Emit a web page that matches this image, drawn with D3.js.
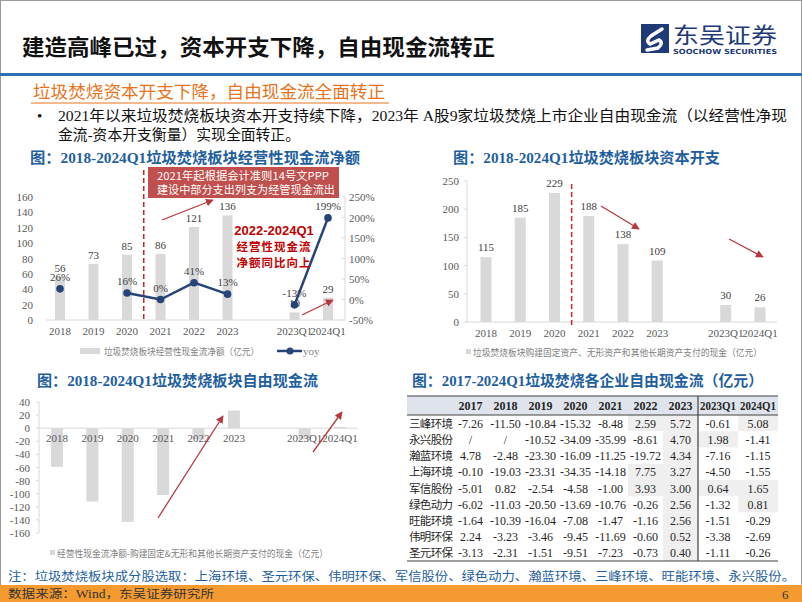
<!DOCTYPE html>
<meta charset="utf-8">
<style>
body { margin: 0; background: #fff; }
svg { display: block; }
</style>
<body>
<script src="https://d3js.org/d3.v7.min.js"></script>
<script>

// ---- data ----
var categories = ["2018", "2019", "2020", "2021", "2022", "2023", "2023Q1", "2024Q1"];
var slots = ["2018", "2019", "2020", "2021", "2022", "2023", "gap", "2023Q1", "2024Q1"];

var opCashFlow = [56, 73, 85, 86, 121, 136, 10, 29];       // 亿元
var opCashYoy = [26, null, 16, 0, 41, 13, -13, 199];        // %
var capex = [115, 185, 229, 188, 138, 109, 30, 26];         // 亿元
var freeCashFlow = [-59, -112, -143, -102, -17, 27, -17, 2]; // 亿元

var tableYears = ["2017", "2018", "2019", "2020", "2021", "2022", "2023"];
var tableQuarters = ["2023Q1", "2024Q1"];
var tableCols = tableYears.concat(tableQuarters);
var companies = ["三峰环境", "永兴股份", "瀚蓝环境", "上海环境", "军信股份", "绿色动力", "旺能环境", "伟明环保", "圣元环保"];
var companyFcf = [
  [-7.26, -11.50, -10.84, -15.32, -8.48, 2.59, 5.72, -0.61, 5.08],
  [null, null, -10.52, -34.09, -35.99, -8.61, 4.70, 1.98, -1.41],
  [4.78, -2.48, -23.30, -16.09, -11.25, -19.72, 4.34, -7.16, -1.15],
  [-0.10, -19.03, -23.31, -34.35, -14.18, 7.75, 3.27, -4.50, -1.55],
  [-5.01, 0.82, -2.54, -4.58, -1.00, 3.93, 3.00, 0.64, 1.65],
  [-6.02, -11.03, -20.50, -13.69, -10.76, -0.26, 2.56, -1.32, 0.81],
  [-1.64, -10.39, -16.04, -7.08, -1.47, -1.16, 2.56, -1.51, -0.29],
  [2.24, -3.23, -3.46, -9.45, -11.69, -0.60, 0.52, -3.38, -2.69],
  [-3.13, -2.31, -1.51, -9.51, -7.23, -0.73, 0.40, -1.11, -0.26]
];

// ---- styles ----
var serif = "'Liberation Serif','Noto Sans CJK SC',serif";
var cjk = "'Noto Sans CJK SC',sans-serif";
var blue = "#1f5fa0";
var barGrey = "#d9d9d9";
var axisGrey = "#d9d9d9";
var tickText = "#595959";
var red = "#b8373d";

var svg = d3.select("body").append("svg")
    .attr("width", 802)
    .attr("height", 602);

svg.append("defs").append("marker")
    .attr("id", "arrow")
    .attr("viewBox", "0 0 10 10")
    .attr("refX", 9).attr("refY", 5)
    .attr("markerWidth", 6).attr("markerHeight", 6)
    .attr("orient", "auto")
  .append("path")
    .attr("d", "M0,0 L10,5 L0,10 z")
    .attr("fill", red);

// slide border
svg.append("rect")
    .attr("x", 0.5).attr("y", 0.5)
    .attr("width", 801).attr("height", 601)
    .attr("fill", "none").attr("stroke", "#9a9a9a");

// ---- header ----
svg.append("text")
    .attr("x", 22).attr("y", 55)
    .attr("font-family", cjk).attr("font-weight", "bold")
    .attr("font-size", 22).attr("fill", "#111")
    .attr("textLength", 473).attr("lengthAdjust", "spacingAndGlyphs")
    .text("建造高峰已过，资本开支下降，自由现金流转正");

svg.append("rect")
    .attr("x", 0).attr("y", 73).attr("width", 802).attr("height", 3)
    .attr("fill", "#2e6fb3");

// logo
var logo = svg.append("g");
logo.append("rect")
    .attr("x", 641).attr("y", 24).attr("width", 28).attr("height", 29)
    .attr("fill", "#1e3a78");
logo.append("path")
    .attr("d", "M662,29 L651,36 Q645,41 650,44 L659,40 Q664,43 658,48 L647,50")
    .attr("fill", "none").attr("stroke", "#fff").attr("stroke-width", 3.5)
    .attr("stroke-linecap", "round");
logo.append("text")
    .attr("x", 673).attr("y", 43)
    .attr("font-family", cjk).attr("font-size", 22).attr("fill", "#1e3a78")
    .attr("textLength", 104).attr("lengthAdjust", "spacingAndGlyphs")
    .text("东吴证券");
logo.append("text")
    .attr("x", 673).attr("y", 54)
    .attr("font-family", "'DejaVu Sans',sans-serif").attr("font-weight", "bold")
    .attr("font-size", 7).attr("fill", "#1e3a78")
    .attr("textLength", 104).attr("lengthAdjust", "spacingAndGlyphs")
    .text("SOOCHOW SECURITIES");

// orange subheading
svg.append("text")
    .attr("x", 33).attr("y", 98)
    .attr("font-family", cjk).attr("font-size", 17).attr("fill", "#e8731a")
    .attr("textLength", 352).attr("lengthAdjust", "spacingAndGlyphs")
    .text("垃圾焚烧资本开支下降，自由现金流全面转正");
svg.append("line")
    .attr("x1", 31).attr("x2", 389).attr("y1", 103).attr("y2", 103)
    .attr("stroke", "#e8731a").attr("stroke-width", 1);

// bullet text
svg.append("text")
    .attr("x", 37).attr("y", 121)
    .attr("font-family", serif).attr("font-size", 15).attr("fill", "#111")
    .text("•");
svg.append("text")
    .attr("x", 58).attr("y", 121)
    .attr("font-family", serif).attr("font-size", 15).attr("fill", "#111")
    .attr("textLength", 729).attr("lengthAdjust", "spacingAndGlyphs")
    .text("2021年以来垃圾焚烧板块资本开支持续下降，2023年 A股9家垃圾焚烧上市企业自由现金流（以经营性净现");
svg.append("text")
    .attr("x", 58).attr("y", 140)
    .attr("font-family", serif).attr("font-size", 15).attr("fill", "#111")
    .attr("textLength", 242).attr("lengthAdjust", "spacingAndGlyphs")
    .text("金流-资本开支衡量）实现全面转正。");

// chart titles
function chartTitle(x, y, w, txt) {
  svg.append("text")
      .attr("x", x).attr("y", y)
      .attr("font-family", serif).attr("font-weight", "bold")
      .attr("font-size", 15).attr("fill", blue)
      .attr("textLength", w).attr("lengthAdjust", "spacingAndGlyphs")
      .text(txt);
}
chartTitle(30, 163, 330, "图：2018-2024Q1垃圾焚烧板块经营性现金流净额");
chartTitle(453, 163, 267, "图：2018-2024Q1垃圾焚烧板块资本开支");
chartTitle(37, 386, 281, "图：2018-2024Q1垃圾焚烧板块自由现金流");
chartTitle(412, 386, 351, "图：2017-2024Q1垃圾焚烧各企业自由现金流（亿元）");

function arrow(x1, y1, x2, y2) {
  svg.append("line")
      .attr("x1", x1).attr("y1", y1).attr("x2", x2).attr("y2", y2)
      .attr("stroke", red).attr("stroke-width", 1.3)
      .attr("marker-end", "url(#arrow)");
}

function legendText(x, y, w, txt, anchor) {
  svg.append("text")
      .attr("x", x).attr("y", y)
      .attr("font-family", cjk).attr("font-size", 9.5).attr("fill", "#7f7f7f")
      .attr("text-anchor", anchor || "start")
      .attr("textLength", w).attr("lengthAdjust", "spacingAndGlyphs")
      .text(txt);
}

// ---- chart 1: operating cash flow ----
var x1 = d3.scalePoint().domain(slots).range([60, 328]);
var y1 = d3.scaleLinear().domain([0, 160]).range([320, 197]);
var y1r = d3.scaleLinear().domain([-50, 250]).range([320, 197]);

var c1 = svg.append("g");
c1.selectAll(".ytick").data(y1.ticks(8)).enter().append("text")
    .attr("x", 33).attr("y", function(d) { return y1(d) + 4; })
    .attr("text-anchor", "end")
    .attr("font-family", serif).attr("font-size", 11).attr("fill", tickText)
    .text(function(d) { return d; });
c1.selectAll(".ytickr").data(d3.range(-50, 251, 50)).enter().append("text")
    .attr("x", 349).attr("y", function(d) { return y1r(d) + 4; })
    .attr("font-family", serif).attr("font-size", 11).attr("fill", tickText)
    .text(function(d) { return d + "%"; });
c1.append("line")
    .attr("x1", 345).attr("x2", 345).attr("y1", y1r(250)).attr("y2", y1r(-50))
    .attr("stroke", axisGrey);
c1.selectAll(".rt").data(d3.range(-50, 251, 50)).enter().append("line")
    .attr("x1", 345).attr("x2", 342)
    .attr("y1", function(d) { return y1r(d); }).attr("y2", function(d) { return y1r(d); })
    .attr("stroke", axisGrey);
c1.append("line")
    .attr("x1", 46).attr("x2", 345).attr("y1", y1(0)).attr("y2", y1(0))
    .attr("stroke", axisGrey);

c1.selectAll(".bar").data(opCashFlow).enter().append("rect")
    .attr("x", function(d, i) { return x1(categories[i]) - 5; })
    .attr("y", function(d) { return y1(d); })
    .attr("width", 10)
    .attr("height", function(d) { return y1(0) - y1(d); })
    .attr("fill", barGrey);
c1.selectAll(".blab").data(opCashFlow).enter().append("text")
    .attr("x", function(d, i) { return x1(categories[i]); })
    .attr("y", function(d) { return y1(d) - 5; })
    .attr("text-anchor", "middle")
    .attr("font-family", serif).attr("font-size", 11).attr("fill", "#404040")
    .text(function(d) { return d; });
c1.selectAll(".xlab").data(categories).enter().append("text")
    .attr("x", function(d) { return x1(d); })
    .attr("y", 335)
    .attr("text-anchor", "middle")
    .attr("font-family", serif).attr("font-size", 11).attr("fill", tickText)
    .text(function(d) { return d; });

// dashed separator
c1.append("line")
    .attr("x1", (x1("2020") + x1("2021")) / 2).attr("x2", (x1("2020") + x1("2021")) / 2)
    .attr("y1", 170).attr("y2", y1(0))
    .attr("stroke", "#c0272d").attr("stroke-width", 1.5)
    .attr("stroke-dasharray", "5,3");

// yoy line
var yoyBySlot = slots.map(function(s) {
  var i = categories.indexOf(s);
  return { slot: s, v: i < 0 ? null : opCashYoy[i] };
});
var lineGen = d3.line()
    .defined(function(d) { return d.v !== null; })
    .x(function(d) { return x1(d.slot); })
    .y(function(d) { return y1r(d.v); });
c1.append("path")
    .datum(yoyBySlot)
    .attr("d", lineGen)
    .attr("fill", "none").attr("stroke", "#264478").attr("stroke-width", 2.5);
var yoyPts = yoyBySlot.filter(function(d) { return d.v !== null; });
c1.selectAll(".dot").data(yoyPts).enter().append("circle")
    .attr("cx", function(d) { return x1(d.slot); })
    .attr("cy", function(d) { return y1r(d.v); })
    .attr("r", 3.8).attr("fill", "#264478");
c1.selectAll(".ylab").data(yoyPts).enter().append("text")
    .attr("x", function(d) { return x1(d.slot); })
    .attr("y", function(d) { return y1r(d.v) - 8; })
    .attr("text-anchor", "middle")
    .attr("font-family", serif).attr("font-size", 11).attr("fill", "#404040")
    .text(function(d) { return d.v + "%"; });

// red note box
c1.append("rect")
    .attr("x", 148).attr("y", 167).attr("width", 191).attr("height", 31)
    .attr("fill", "#c0504d");
c1.append("text")
    .attr("x", 243).attr("y", 180).attr("text-anchor", "middle")
    .attr("font-family", cjk).attr("font-size", 11).attr("fill", "#fff")
    .attr("textLength", 172).attr("lengthAdjust", "spacingAndGlyphs")
    .text("2021年起根据会计准则14号文PPP");
c1.append("text")
    .attr("x", 246).attr("y", 194).attr("text-anchor", "middle")
    .attr("font-family", cjk).attr("font-size", 11).attr("fill", "#fff")
    .attr("textLength", 178).attr("lengthAdjust", "spacingAndGlyphs")
    .text("建设中部分支出列支为经管现金流出");

c1.append("text")
    .attr("x", 274).attr("y", 235).attr("text-anchor", "middle")
    .attr("font-family", "'Liberation Sans',sans-serif").attr("font-weight", "bold")
    .attr("font-size", 13).attr("fill", "#c00000")
    .text("2022-2024Q1");
c1.append("text")
    .attr("x", 274).attr("y", 251).attr("text-anchor", "middle")
    .attr("font-family", cjk).attr("font-weight", "bold")
    .attr("font-size", 11.5).attr("fill", "#c00000")
    .attr("letter-spacing", 1)
    .text("经营性现金流");
c1.append("text")
    .attr("x", 274).attr("y", 267).attr("text-anchor", "middle")
    .attr("font-family", cjk).attr("font-weight", "bold")
    .attr("font-size", 11.5).attr("fill", "#c00000")
    .attr("letter-spacing", 1)
    .text("净额同比向上");

arrow(162, 220, 213, 200);
arrow(302, 315, 333, 300);

// legend
c1.append("rect").attr("x", 80).attr("y", 348).attr("width", 20).attr("height", 6).attr("fill", barGrey);
legendText(104, 355, 155, "垃圾焚烧板块经营性现金流净额（亿元）");
c1.append("line").attr("x1", 277).attr("x2", 302).attr("y1", 351).attr("y2", 351)
    .attr("stroke", "#264478").attr("stroke-width", 2.5);
c1.append("circle").attr("cx", 290).attr("cy", 351).attr("r", 3.5).attr("fill", "#264478");
c1.append("text").attr("x", 303).attr("y", 355)
    .attr("font-family", serif).attr("font-size", 11).attr("fill", "#7f7f7f")
    .text("yoy");

// ---- chart 2: capex ----
var x2 = d3.scalePoint().domain(slots).range([486, 760]);
var y2 = d3.scaleLinear().domain([0, 250]).range([322, 181]);
var c2 = svg.append("g");
c2.selectAll(".ytick").data(y2.ticks(5)).enter().append("text")
    .attr("x", 459).attr("y", function(d) { return y2(d) + 4; })
    .attr("text-anchor", "end")
    .attr("font-family", serif).attr("font-size", 11).attr("fill", tickText)
    .text(function(d) { return d; });
c2.append("line")
    .attr("x1", 467).attr("x2", 467).attr("y1", y2(250)).attr("y2", y2(0))
    .attr("stroke", axisGrey);
c2.selectAll(".lt").data(y2.ticks(5)).enter().append("line")
    .attr("x1", 464).attr("x2", 467)
    .attr("y1", function(d) { return y2(d); }).attr("y2", function(d) { return y2(d); })
    .attr("stroke", axisGrey);
c2.append("line")
    .attr("x1", 467).attr("x2", 777).attr("y1", y2(0)).attr("y2", y2(0))
    .attr("stroke", axisGrey);
c2.selectAll(".bar").data(capex).enter().append("rect")
    .attr("x", function(d, i) { return x2(categories[i]) - 5.5; })
    .attr("y", function(d) { return y2(d); })
    .attr("width", 11)
    .attr("height", function(d) { return y2(0) - y2(d); })
    .attr("fill", barGrey);
c2.selectAll(".blab").data(capex).enter().append("text")
    .attr("x", function(d, i) { return x2(categories[i]); })
    .attr("y", function(d) { return y2(d) - 6; })
    .attr("text-anchor", "middle")
    .attr("font-family", serif).attr("font-size", 11).attr("fill", "#404040")
    .text(function(d) { return d; });
c2.selectAll(".xlab").data(categories).enter().append("text")
    .attr("x", function(d) { return x2(d); })
    .attr("y", 337)
    .attr("text-anchor", "middle")
    .attr("font-family", serif).attr("font-size", 11).attr("fill", tickText)
    .text(function(d) { return d; });
c2.append("line")
    .attr("x1", (x2("2020") + x2("2021")) / 2).attr("x2", (x2("2020") + x2("2021")) / 2)
    .attr("y1", 184).attr("y2", y2(0) + 3)
    .attr("stroke", "#c0272d").attr("stroke-width", 1.5)
    .attr("stroke-dasharray", "5,3");
arrow(601, 206, 639, 229);
arrow(729, 239, 763, 257);
c2.append("rect").attr("x", 466).attr("y", 349).attr("width", 5).attr("height", 5).attr("fill", barGrey);
legendText(473, 356, 289, "垃圾焚烧板块购建固定资产、无形资产和其他长期资产支付的现金（亿元）");

// ---- chart 3: free cash flow ----
var x3 = d3.scalePoint().domain(slots).range([57, 340]);
var y3 = d3.scaleLinear().domain([-160, 40]).range([533, 402]);
var c3 = svg.append("g");
c3.selectAll(".ytick").data(y3.ticks(10)).enter().append("text")
    .attr("x", 30).attr("y", function(d) { return y3(d) + 4; })
    .attr("text-anchor", "end")
    .attr("font-family", serif).attr("font-size", 11).attr("fill", tickText)
    .text(function(d) { return d; });
c3.append("line")
    .attr("x1", 39).attr("x2", 39).attr("y1", y3(40)).attr("y2", y3(-160))
    .attr("stroke", axisGrey);
c3.selectAll(".lt").data(y3.ticks(10)).enter().append("line")
    .attr("x1", 36).attr("x2", 39)
    .attr("y1", function(d) { return y3(d); }).attr("y2", function(d) { return y3(d); })
    .attr("stroke", axisGrey);
c3.selectAll(".bar").data(freeCashFlow).enter().append("rect")
    .attr("x", function(d, i) { return x3(categories[i]) - 6; })
    .attr("y", function(d) { return y3(Math.max(0, d)); })
    .attr("width", 12)
    .attr("height", function(d) { return Math.abs(y3(d) - y3(0)); })
    .attr("fill", barGrey);
c3.append("line")
    .attr("x1", 39).attr("x2", 358).attr("y1", y3(0)).attr("y2", y3(0))
    .attr("stroke", axisGrey);
c3.selectAll(".xlab").data(categories).enter().append("text")
    .attr("x", function(d) { return x3(d); })
    .attr("y", 442)
    .attr("text-anchor", "middle")
    .attr("font-family", serif).attr("font-size", 11).attr("fill", tickText)
    .text(function(d) { return d; });
arrow(158, 518, 223, 416);
arrow(313, 452, 342, 412);
c3.append("rect").attr("x", 50).attr("y", 550).attr("width", 5).attr("height", 5).attr("fill", barGrey);
legendText(57, 557, 271, "经营性现金流净额-购建固定&无形和其他长期资产支付的现金（亿元）");

// ---- table ----
var txYear = d3.scaleBand().domain(tableYears).range([453, 698]);
var txQtr = d3.scaleBand().domain(tableQuarters).range([698, 778]);
function colX(c) { return tableYears.indexOf(c) >= 0 ? txYear(c) : txQtr(c); }
function colW(c) { return tableYears.indexOf(c) >= 0 ? txYear.bandwidth() : txQtr.bandwidth(); }
var ty = d3.scaleBand().domain(companies).range([415, 561]);
var tb = svg.append("g");
var firstShaded = tableCols.indexOf("2022");

tb.append("rect")
    .attr("x", 407).attr("y", 396).attr("width", 371).attr("height", 19)
    .attr("fill", "#dfe4ec");

companyFcf.forEach(function(row, r) {
  row.forEach(function(v, c) {
    if (c >= firstShaded && v !== null && v > 0) {
      tb.append("rect")
          .attr("x", colX(tableCols[c]))
          .attr("y", ty(companies[r]))
          .attr("width", colW(tableCols[c]))
          .attr("height", ty.bandwidth())
          .attr("fill", "#efefef");
    }
  });
});

tb.selectAll(".hdr").data(tableCols).enter().append("text")
    .attr("x", function(d) { return colX(d) + colW(d) / 2; })
    .attr("y", 410)
    .attr("text-anchor", "middle")
    .attr("font-family", serif).attr("font-weight", "bold")
    .attr("font-size", 12).attr("fill", "#262626")
    .each(function(d) {
      if (tableQuarters.indexOf(d) >= 0) {
        d3.select(this).attr("textLength", colW(d) - 4).attr("lengthAdjust", "spacingAndGlyphs");
      }
    })
    .text(function(d) { return d; });

tb.selectAll(".rlab").data(companies).enter().append("text")
    .attr("x", 409)
    .attr("y", function(d) { return ty(d) + ty.bandwidth() / 2 + 4.5; })
    .attr("font-family", cjk).attr("font-size", 11.5).attr("fill", "#262626")
    .attr("textLength", 44).attr("lengthAdjust", "spacing")
    .text(function(d) { return d; });

companyFcf.forEach(function(row, r) {
  tb.selectAll(".cell" + r).data(row).enter().append("text")
      .attr("x", function(d, c) { return colX(tableCols[c]) + colW(tableCols[c]) / 2; })
      .attr("y", ty(companies[r]) + ty.bandwidth() / 2 + 4.5)
      .attr("text-anchor", "middle")
      .attr("font-family", serif).attr("font-size", 12).attr("fill", "#262626")
      .text(function(d) { return d === null ? "/" : d.toFixed(2); });
});

tb.append("line").attr("x1", 407).attr("x2", 778).attr("y1", 396).attr("y2", 396)
    .attr("stroke", "#404040").attr("stroke-width", 1.2);
tb.append("line").attr("x1", 407).attr("x2", 778).attr("y1", 415).attr("y2", 415)
    .attr("stroke", "#404040").attr("stroke-width", 1);
tb.append("line").attr("x1", 407).attr("x2", 778).attr("y1", 561).attr("y2", 561)
    .attr("stroke", "#404040").attr("stroke-width", 1.2);
tb.append("line")
    .attr("x1", txQtr("2023Q1")).attr("x2", txQtr("2023Q1"))
    .attr("y1", 396).attr("y2", 561)
    .attr("stroke", "#404040").attr("stroke-width", 1.2);

// ---- footer ----
svg.append("text")
    .attr("x", 8).attr("y", 581)
    .attr("font-family", serif).attr("font-size", 12).attr("fill", blue)
    .attr("textLength", 787).attr("lengthAdjust", "spacingAndGlyphs")
    .text("注：垃圾焚烧板块成分股选取：上海环境、圣元环保、伟明环保、军信股份、绿色动力、瀚蓝环境、三峰环境、旺能环境、永兴股份。");
svg.append("rect")
    .attr("x", 0).attr("y", 585).attr("width", 802).attr("height", 17)
    .attr("fill", "#f39a31");
svg.append("text")
    .attr("x", 8).attr("y", 598)
    .attr("font-family", serif).attr("font-size", 11.5).attr("fill", "#333")
    .attr("textLength", 206).attr("lengthAdjust", "spacingAndGlyphs")
    .text("数据来源：Wind，东吴证券研究所");
svg.append("text")
    .attr("x", 782).attr("y", 599)
    .attr("font-family", serif).attr("font-size", 13).attr("fill", "#333")
    .text("6");

</script>
</body>
